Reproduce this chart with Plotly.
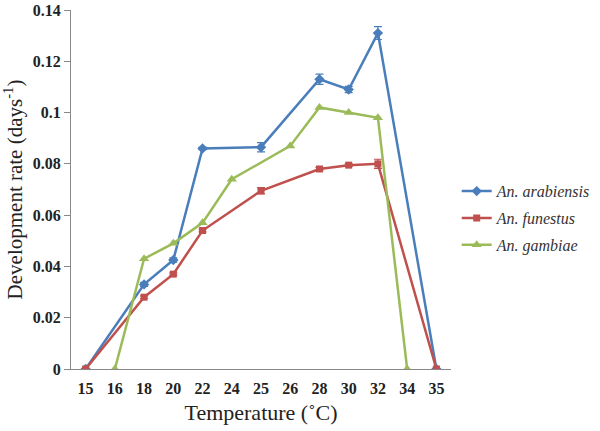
import plotly.graph_objects as go

categories = ["15", "16", "18", "20", "22", "24", "25", "26", "28", "30", "32", "34", "35"]

arab_x = ["15", "18", "20", "22", "25", "28", "30", "32", "35"]
arab_y = [0, 0.033, 0.0425, 0.086, 0.0865, 0.113, 0.109, 0.131, 0]
arab_err = [0, 0.0008, 0.0008, 0.0005, 0.0018, 0.002, 0.0012, 0.0025, 0]

fun_x = ["15", "18", "20", "22", "25", "28", "30", "32", "35"]
fun_y = [0, 0.028, 0.037, 0.054, 0.0695, 0.078, 0.0795, 0.080, 0]
fun_err = [0, 0.0005, 0.0005, 0.0005, 0.0012, 0.0006, 0.0005, 0.0018, 0]

gam_x = ["16", "18", "20", "22", "24", "26", "28", "30", "32", "34"]
gam_y = [0, 0.043, 0.049, 0.057, 0.074, 0.087, 0.102, 0.100, 0.098, 0]

idx = {c: i for i, c in enumerate(categories)}

BLUE = "#4A7EBB"
RED = "#C0504D"
GREEN = "#9BBB59"

fig = go.Figure()
fig.add_trace(go.Scatter(
    x=[idx[c] for c in arab_x], y=arab_y, mode="lines+markers",
    name="<i>An. arabiensis</i>", legendgroup="a",
    line=dict(color=BLUE, width=2.5),
    marker=dict(symbol="diamond", size=8, color=BLUE),
    error_y=dict(type="data", array=arab_err, color=BLUE, thickness=1.2, width=4),
))
fig.add_trace(go.Scatter(
    x=[idx[c] for c in fun_x], y=fun_y, mode="lines+markers",
    name="<i>An. funestus</i>", legendgroup="b",
    line=dict(color=RED, width=2.5),
    marker=dict(symbol="square", size=7, color=RED),
    error_y=dict(type="data", array=fun_err, color=RED, thickness=1.2, width=4),
))
fig.add_trace(go.Scatter(
    x=[idx[c] for c in gam_x], y=gam_y, mode="lines+markers",
    name="<i>An. gambiae</i>", legendgroup="c",
    line=dict(color=GREEN, width=2.5),
    marker=dict(symbol="triangle-up", size=9, color=GREEN),
))

serif = "Liberation Serif, Times New Roman, serif"

fig.update_layout(
    width=600, height=431,
    margin=dict(l=71, r=149, t=10, b=62, autoexpand=False),
    paper_bgcolor="white", plot_bgcolor="white",
    font=dict(family=serif, color="#222222"),
    showlegend=True,
    legend=dict(x=1.015, y=0.42, xanchor="left", yanchor="middle",
                font=dict(family=serif, size=16, color="#333333"),
                bgcolor="rgba(0,0,0,0)", tracegroupgap=3, itemwidth=30),
    xaxis=dict(
        range=[-0.5, 12.5], automargin=False,
        tickmode="array", tickvals=list(range(len(categories))), ticktext=categories,
        showgrid=False, zeroline=False, showline=True, linecolor="#888888", linewidth=1,
        ticks="outside", ticklen=5, tickcolor="rgba(0,0,0,0)",
        tickfont=dict(family=serif, size=16, color="#222222", weight="bold"),
        title=dict(text="Temperature (˚C)", font=dict(family=serif, size=22, color="#222222"), standoff=8),
    ),
    yaxis=dict(
        range=[0, 0.14], automargin=False,
        tickvals=[0, 0.02, 0.04, 0.06, 0.08, 0.1, 0.12, 0.14],
        ticktext=["0", "0.02", "0.04", "0.06", "0.08", "0.1", "0.12", "0.14"],
        showgrid=False, zeroline=False, showline=True, linecolor="#888888", linewidth=1,
        ticks="outside", ticklen=6, tickcolor="#888888",
        tickfont=dict(family=serif, size=16, color="#222222", weight="bold"),
        title=dict(text="Development rate (days<sup>-1</sup>)", font=dict(family=serif, size=21, color="#222222"), standoff=4),
    ),
)

fig.write_html("out.html", config={"displayModeBar": False},
               post_script="document.body.style.margin='0';")
